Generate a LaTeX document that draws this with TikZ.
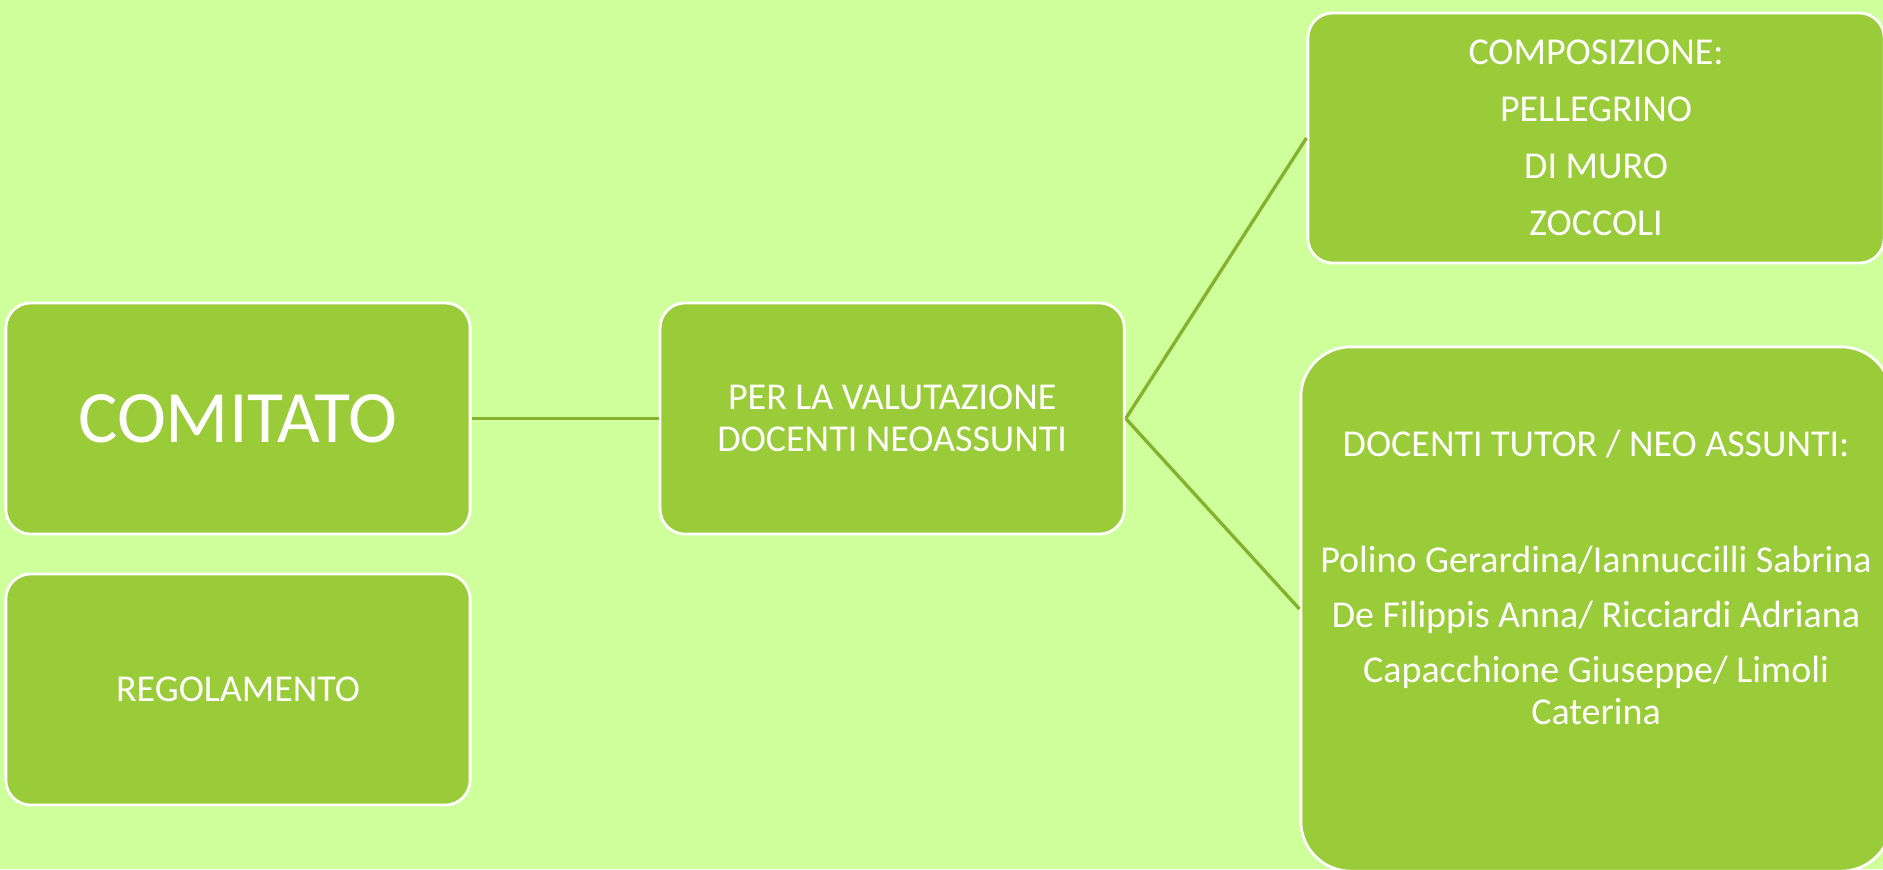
\documentclass[tikz,border=0pt]{standalone}
\usepackage{fontspec}
\setmainfont{Carlito}
\usepackage{tikz}
\usetikzlibrary{positioning}
\usepackage{xcolor}
\definecolor{sfondo}{RGB}{207,255,155}
\definecolor{verdebox}{RGB}{154,204,58}
\definecolor{verdelinea}{RGB}{132,178,46}

\begin{document}
\begin{tikzpicture}[x=0.01cm,y=-0.01cm,
		box/.style={rectangle,rounded corners=0.25cm,fill=verdebox,draw=white,line width=0.8pt,
			text=white,align=center,inner sep=0pt,minimum width=4.64cm,minimum height=2.31cm,
			font=\fontsize{10.8}{12}\selectfont},
		ramo/.style={draw=verdelinea,line width=0.95pt}]
		\fill[sfondo] (0,0) rectangle (1883,869);
		\useasboundingbox (0,0) rectangle (1883,869);

		\node[box,font=\fontsize{21}{25}\selectfont] (comitato) at (238,418.5) {COMITATO};
		\node[box] (regolamento) [below=0.37cm of comitato] {REGOLAMENTO};
		\node[box] (valutazione) [right=1.87cm of comitato] {PER LA VALUTAZIONE\\DOCENTI NEOASSUNTI};
		\node[box,minimum width=5.76cm,minimum height=2.5cm] (composizione) at (1596,138)
			{COMPOSIZIONE:\\[4.2pt]PELLEGRINO\\[4.2pt]DI MURO\\[4.2pt]ZOCCOLI};
		\node[box,rounded corners=0.5cm,minimum width=5.9cm,minimum height=5.24cm] (tutor) at (1596,609)
			{DOCENTI TUTOR / NEO ASSUNTI:\\[21pt]Polino Gerardina/Iannuccilli Sabrina\\[3.6pt]De Filippis Anna/ Ricciardi Adriana\\[3.6pt]Capacchione Giuseppe/ Limoli\\Caterina\\[6pt]\mbox{}};

		\path[ramo] (comitato) edge (valutazione);
		\path[ramo] (valutazione.east) edge (composizione.west);
		\path[ramo] (valutazione.east) edge (tutor.west);
		\end{tikzpicture}
\end{document}
